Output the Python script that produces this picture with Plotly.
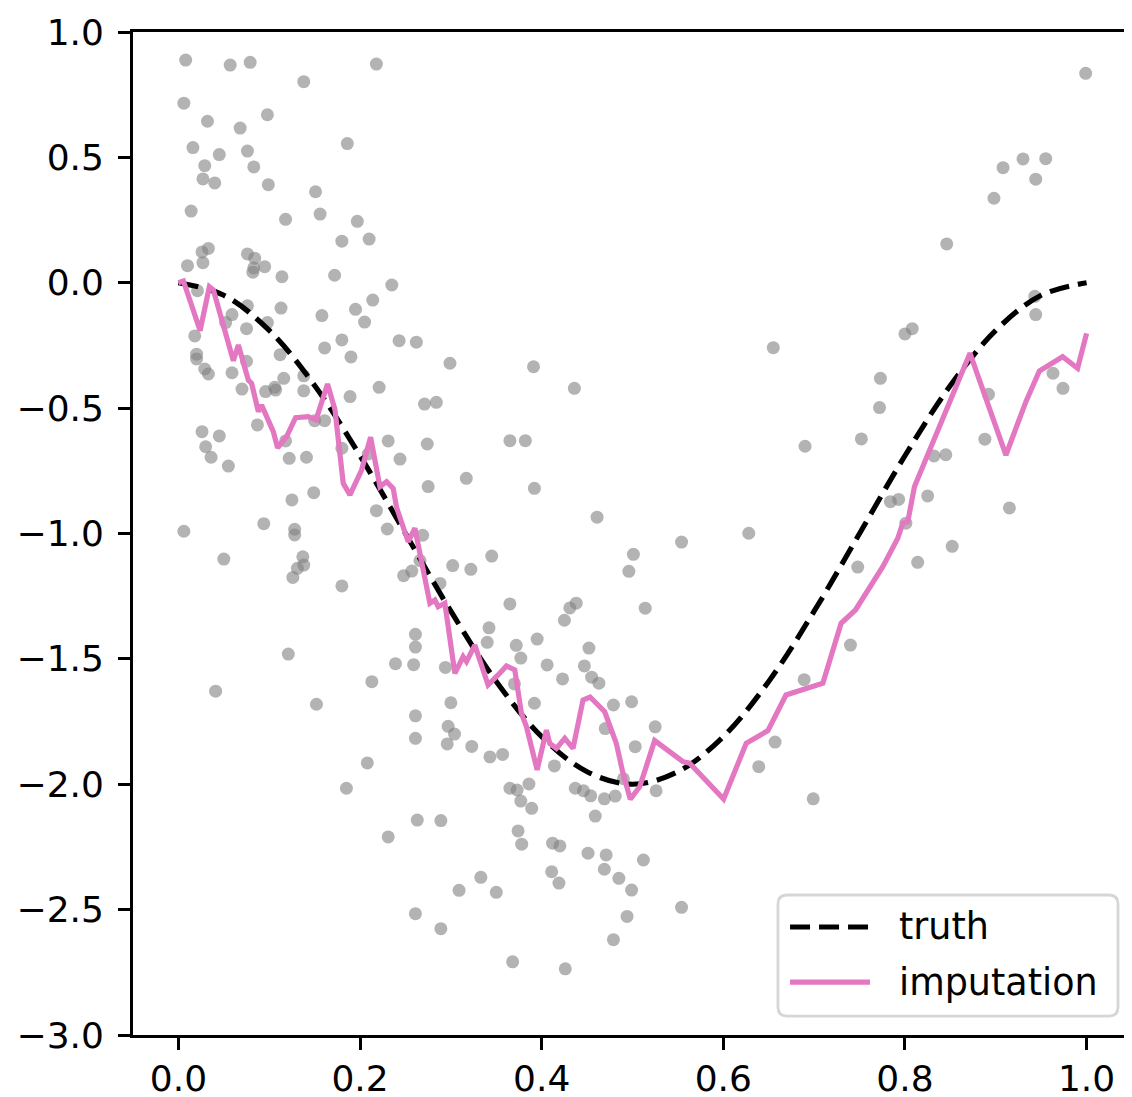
import plotly.graph_objects as go

# ---- data ----
obs_x = [0.008, 0.057, 0.079, 0.218, 0.138, 0.006, 0.098, 0.032, 0.068, 0.186,
         0.016, 0.045, 0.076, 0.029, 0.083, 0.027, 0.040, 0.099, 0.151, 0.156,
         0.014, 0.118, 0.197, 0.180, 0.210, 0.033, 0.026, 0.010, 0.027, 0.076,
         0.084, 0.083, 0.082, 0.095, 0.114, 0.172, 0.235, 0.021, 0.076, 0.059,
         0.052, 0.113, 0.158, 0.195, 0.214, 0.205, 0.098, 0.075, 0.018, 0.180,
         0.161, 0.190, 0.112, 0.020, 0.020, 0.075, 0.029, 0.033, 0.059, 0.116,
         0.138, 0.243, 0.262, 0.299, 0.391, 0.655, 0.773, 0.999, 0.908, 0.930,
         0.955, 0.944, 0.898, 0.846, 0.943, 0.944, 0.808, 0.800, 0.963, 0.070,
         0.096, 0.106, 0.107, 0.138, 0.189, 0.221, 0.087, 0.026, 0.045, 0.030,
         0.036, 0.055, 0.118, 0.122, 0.141, 0.150, 0.161, 0.180, 0.209, 0.231,
         0.149, 0.125, 0.218, 0.230, 0.006, 0.094, 0.128, 0.128, 0.137, 0.138,
         0.131, 0.126, 0.050, 0.180, 0.121, 0.041, 0.213, 0.152, 0.239, 0.436,
         0.271, 0.284, 0.274, 0.244, 0.365, 0.382, 0.317, 0.275, 0.392, 0.461,
         0.269, 0.345, 0.302, 0.322, 0.248, 0.257, 0.266, 0.288, 0.501, 0.496,
         0.365, 0.431, 0.438, 0.425, 0.514, 0.261, 0.261, 0.342, 0.340, 0.395,
         0.372, 0.377, 0.452, 0.259, 0.294, 0.406, 0.447, 0.423, 0.455, 0.463,
         0.370, 0.300, 0.392, 0.479, 0.499, 0.772, 0.752, 0.690, 0.784, 0.628,
         0.554, 0.748, 0.740, 0.689, 0.892, 0.974, 0.888, 0.832, 0.845, 0.793,
         0.825, 0.915, 0.801, 0.852, 0.814, 0.208, 0.185, 0.231, 0.261, 0.261,
         0.297, 0.304, 0.296, 0.323, 0.343, 0.357, 0.414, 0.470, 0.503, 0.490,
         0.365, 0.373, 0.386, 0.377, 0.389, 0.437, 0.446, 0.454, 0.469, 0.481,
         0.459, 0.263, 0.289, 0.374, 0.378, 0.412, 0.420, 0.451, 0.471, 0.512,
         0.411, 0.419, 0.469, 0.485, 0.499, 0.333, 0.309, 0.350, 0.261, 0.289,
         0.494, 0.479, 0.368, 0.426, 0.525, 0.526, 0.657, 0.639, 0.699, 0.554]
obs_y = [0.888, 0.868, 0.879, 0.872, 0.802, 0.716, 0.670, 0.644, 0.617, 0.555,
         0.539, 0.511, 0.525, 0.467, 0.462, 0.414, 0.398, 0.391, 0.363, 0.274,
         0.286, 0.253, 0.245, 0.166, 0.174, 0.137, 0.123, 0.068, 0.080, 0.115,
         0.098, 0.059, 0.042, 0.064, 0.024, 0.030, -0.009, -0.032, -0.092, -0.127,
         -0.159, -0.101, -0.131, -0.106, -0.069, -0.157, -0.159, -0.183, -0.212, -0.228,
         -0.260, -0.296, -0.287, -0.285, -0.304, -0.313, -0.344, -0.364, -0.359, -0.381,
         -0.371, -0.231, -0.237, -0.321, -0.335, -0.259, -0.381, 0.835, 0.459, 0.494,
         0.495, 0.413, 0.337, 0.155, -0.054, -0.127, -0.183, -0.204, -0.361, -0.424,
         -0.434, -0.417, -0.428, -0.431, -0.454, -0.417, -0.567, -0.594, -0.611, -0.654,
         -0.696, -0.731, -0.631, -0.700, -0.696, -0.550, -0.550, -0.660, -0.683, -0.631,
         -0.837, -0.866, -0.909, -0.982, -0.991, -0.961, -0.983, -1.006, -1.093, -1.126,
         -1.139, -1.175, -1.102, -1.209, -1.481, -1.629, -1.591, -1.681, -1.519, -0.421,
         -0.484, -0.477, -0.643, -0.703, -0.630, -0.630, -0.780, -0.813, -0.820, -0.935,
         -1.007, -1.090, -1.128, -1.143, -1.168, -1.150, -1.108, -1.199, -1.083, -1.151,
         -1.281, -1.297, -1.278, -1.346, -1.298, -1.402, -1.453, -1.376, -1.434, -1.421,
         -1.446, -1.497, -1.457, -1.523, -1.534, -1.524, -1.528, -1.580, -1.573, -1.597,
         -1.600, -1.675, -1.677, -1.684, -1.671, -0.498, -0.623, -0.652, -0.873, -0.999,
         -1.034, -1.134, -1.445, -1.583, -0.445, -0.421, -0.624, -0.691, -0.686, -0.864,
         -0.850, -0.898, -0.959, -1.051, -1.115, -1.915, -2.016, -2.210, -1.727, -1.817,
         -1.769, -1.800, -1.839, -1.849, -1.891, -1.881, -1.927, -1.778, -1.850, -1.978,
         -2.016, -2.023, -1.999, -2.067, -2.096, -2.016, -2.026, -2.046, -2.058, -2.047,
         -2.127, -2.143, -2.145, -2.186, -2.239, -2.235, -2.246, -2.275, -2.282, -2.302,
         -2.349, -2.394, -2.339, -2.375, -2.422, -2.371, -2.423, -2.431, -2.516, -2.576,
         -2.527, -2.620, -2.708, -2.736, -1.771, -2.026, -1.832, -1.930, -2.058, -2.491]

truth_x = [0.00, 0.05, 0.10, 0.15, 0.20, 0.25, 0.30, 0.35, 0.40, 0.45, 0.50,
           0.55, 0.60, 0.65, 0.70, 0.75, 0.80, 0.85, 0.90, 0.95, 1.00]
truth_y = [0.00, -0.05, -0.19, -0.41, -0.69, -1.00, -1.31, -1.59, -1.81, -1.95, -2.00,
           -1.95, -1.81, -1.59, -1.31, -1.00, -0.69, -0.41, -0.19, -0.05, 0.00]

imp_x = [0.000, 0.0055, 0.0239, 0.0341, 0.0385, 0.0605, 0.066, 0.0696, 0.077, 0.0806,
         0.088, 0.0916, 0.1045, 0.1092, 0.1191, 0.129, 0.143, 0.1515, 0.1642, 0.1724,
         0.1815, 0.1889, 0.2017, 0.2116, 0.2219, 0.2292, 0.2365, 0.2402, 0.253, 0.2604,
         0.264, 0.2769, 0.2824, 0.286, 0.2934, 0.3044, 0.3135, 0.3172, 0.3264, 0.341,
         0.352, 0.3612, 0.3704, 0.3777, 0.3832, 0.395, 0.4052, 0.4089, 0.4162, 0.4254,
         0.4345, 0.4455, 0.4532, 0.4694, 0.4822, 0.4895, 0.4976, 0.5079, 0.5244, 0.5556,
         0.5629, 0.6003, 0.6252, 0.6491, 0.669, 0.7096, 0.7297, 0.7455, 0.7756, 0.7921,
         0.7976, 0.8031, 0.8105, 0.8306, 0.8716, 0.882, 0.9112, 0.9332, 0.948, 0.9736,
         0.9901, 1.000]
imp_y = [0.000, 0.007, -0.191, -0.016, -0.029, -0.311, -0.248, -0.295, -0.388, -0.401,
         -0.514, -0.488, -0.594, -0.658, -0.614, -0.538, -0.534, -0.547, -0.404, -0.507,
         -0.800, -0.846, -0.747, -0.616, -0.813, -0.793, -0.820, -0.896, -1.033, -0.979,
         -1.039, -1.278, -1.265, -1.292, -1.278, -1.558, -1.491, -1.511, -1.445, -1.604,
         -1.564, -1.528, -1.544, -1.717, -1.770, -1.943, -1.784, -1.837, -1.857, -1.817,
         -1.857, -1.664, -1.652, -1.711, -1.837, -1.956, -2.060, -2.010, -1.826, -1.910,
         -1.916, -2.059, -1.837, -1.786, -1.644, -1.597, -1.358, -1.305, -1.132, -1.019,
         -0.959, -0.953, -0.813, -0.634, -0.281, -0.388, -0.687, -0.474, -0.352, -0.295,
         -0.341, -0.202]

x_tickvals = [0.0, 0.2, 0.4, 0.6, 0.8, 1.0]
x_ticktext = ["0.0", "0.2", "0.4", "0.6", "0.8", "1.0"]
y_tickvals = [-3.0, -2.5, -2.0, -1.5, -1.0, -0.5, 0.0, 0.5, 1.0]
y_ticktext = ["\u22123.0", "\u22122.5", "\u22122.0", "\u22121.5", "\u22121.0",
              "\u22120.5", "0.0", "0.5", "1.0"]
legend_labels = ["truth", "imputation"]

FONT = "DejaVu Sans"
FS = 36
FS_LEG = 36.5
PINK = "#e377c2"
DASH = "20px,9px"

fig = go.Figure()
fig.add_trace(go.Scatter(
    x=obs_x, y=obs_y, mode="markers", showlegend=False,
    marker=dict(size=13, color="rgba(128,128,128,0.6)", line=dict(width=0)),
))
fig.add_trace(go.Scatter(
    x=truth_x, y=truth_y, mode="lines", name=legend_labels[0], showlegend=False,
    line=dict(color="black", width=5.2, dash=DASH, shape="spline"),
))
fig.add_trace(go.Scatter(
    x=imp_x, y=imp_y, mode="lines", name=legend_labels[1], showlegend=False,
    line=dict(color=PINK, width=5.2),
))

# ---- matplotlib-style legend box (paper coordinates) ----
bx0, bx1, by0, by1, r = 0.6456, 0.986, 0.0189, 0.1396, 0.009
box_path = (f"M {bx0 + r},{by0} L {bx1 - r},{by0} Q {bx1},{by0} {bx1},{by0 + r} "
            f"L {bx1},{by1 - r} Q {bx1},{by1} {bx1 - r},{by1} "
            f"L {bx0 + r},{by1} Q {bx0},{by1} {bx0},{by1 - r} "
            f"L {bx0},{by0 + r} Q {bx0},{by0} {bx0 + r},{by0} Z")
shapes = [
    dict(type="path", xref="paper", yref="paper", path=box_path,
         fillcolor="rgba(255,255,255,0.8)", line=dict(color="rgba(204,204,204,0.8)", width=2.8)),
    dict(type="line", xref="paper", yref="paper", x0=0.6577, x1=0.7377, y0=0.1077, y1=0.1077,
         line=dict(color="black", width=5.2, dash=DASH)),
    dict(type="line", xref="paper", yref="paper", x0=0.6577, x1=0.7377, y0=0.0528, y1=0.0528,
         line=dict(color=PINK, width=5.2)),
]
annotations = [
    dict(xref="paper", yref="paper", x=0.7648, y=0.1077, text=legend_labels[0],
         showarrow=False, xanchor="left", yanchor="middle",
         font=dict(family=FONT, size=FS_LEG, color="black")),
    dict(xref="paper", yref="paper", x=0.7648, y=0.0528, text=legend_labels[1],
         showarrow=False, xanchor="left", yanchor="middle",
         font=dict(family=FONT, size=FS_LEG, color="black")),
]

# The page body has an 8px default margin, so the figure is offset by 8px;
# size and margins compensate so the plot area lands where the reference has it.
fig.update_layout(
    width=1124, height=1089,
    margin=dict(l=125, r=0, t=24, b=62, autoexpand=False),
    plot_bgcolor="white", paper_bgcolor="white",
    font=dict(family=FONT, size=FS, color="black"),
    showlegend=False,
    shapes=shapes, annotations=annotations,
    xaxis=dict(
        range=[-0.05, 1.05], showgrid=False, zeroline=False, automargin=False,
        showline=True, linecolor="black", linewidth=2.8, mirror=True,
        ticks="outside", ticklen=12, tickwidth=2.8, tickcolor="black",
        tickvals=x_tickvals, ticktext=x_ticktext, ticklabelstandoff=-2,
    ),
    yaxis=dict(
        range=[-3.0, 1.0], showgrid=False, zeroline=False, automargin=False,
        showline=True, linecolor="black", linewidth=2.8,
        ticks="outside", ticklen=12, tickwidth=2.8, tickcolor="black",
        tickvals=y_tickvals, ticktext=y_ticktext, ticklabelstandoff=7,
    ),
)

fig.write_html("out.html")
